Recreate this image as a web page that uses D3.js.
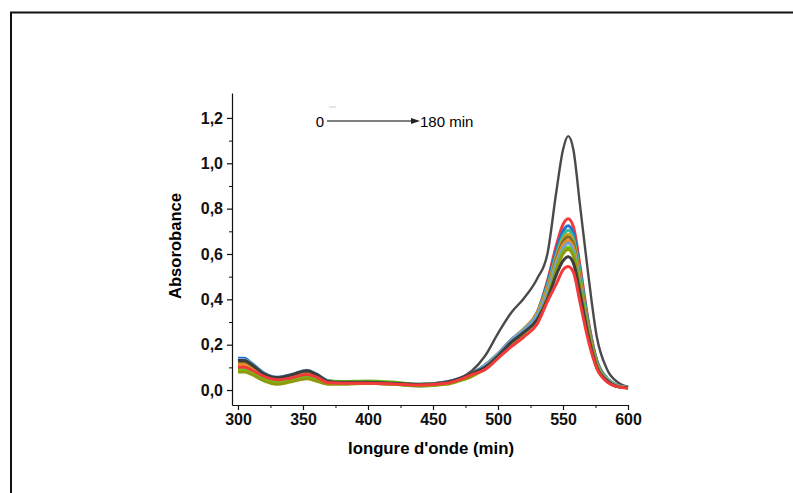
<!DOCTYPE html>
<html>
<head>
<meta charset="utf-8">
<script src="https://cdn.jsdelivr.net/npm/d3@7"></script>
<style>
	body { margin: 0; background: #fff; }
	text { font-family: Arial, "Liberation Sans", sans-serif; }
</style>
</head>
<body>
<div id="chart"></div>
<script>
// wavelengths (nm) shared by every spectrum
const wavelengths = [300,305,310,320,330,340,353,360,370,380,400,420,440,460,470,480,
	490,500,510,520,530,538,545,550,554,558,563,569,576,584,592,600];

// absorbance readings, one array per scan (0 -> 180 min)
const absGrayTop = [.13,.135,.115,.07,.055,.065,.087,.07,.04,.036,.035,.03,.025,.035,.05,.085,
	.15,.25,.34,.405,.49,.60,.88,1.06,1.12,1.06,.82,.53,.235,.09,.035,.015];
const absRedTop = [.10,.105,.095,.06,.045,.055,.07,.06,.035,.03,.03,.028,.022,.03,.045,.07,
	.11,.16,.22,.27,.34,.48,.64,.73,.755,.72,.55,.32,.13,.05,.02,.01];
const absBlue = [.14,.14,.12,.075,.055,.065,.085,.07,.04,.035,.035,.03,.025,.035,.05,.075,
	.11,.16,.22,.27,.34,.47,.62,.70,.725,.69,.53,.31,.13,.05,.02,.01];
const absTeal = [.12,.12,.105,.065,.05,.06,.08,.065,.035,.03,.03,.025,.018,.03,.045,.07,
	.11,.16,.22,.27,.34,.46,.60,.68,.705,.67,.52,.30,.125,.05,.02,.012];
const absGold = [.115,.115,.10,.065,.05,.06,.075,.06,.035,.03,.03,.027,.02,.03,.045,.07,
	.11,.16,.22,.27,.34,.45,.59,.665,.687,.655,.50,.29,.12,.045,.018,.01];
const absBrown = [.125,.125,.11,.07,.052,.062,.08,.065,.037,.032,.032,.028,.022,.032,.047,.072,
	.105,.155,.215,.265,.33,.44,.58,.655,.675,.645,.49,.29,.12,.045,.018,.01];
const absOrange = [.11,.11,.095,.06,.045,.055,.07,.06,.033,.03,.03,.027,.02,.03,.045,.07,
	.105,.155,.215,.265,.33,.44,.57,.64,.66,.63,.48,.28,.115,.045,.018,.01];
const absLightBlue = [.135,.135,.12,.075,.057,.067,.087,.072,.04,.035,.035,.03,.025,.035,.05,.075,
	.11,.16,.22,.265,.33,.43,.56,.625,.647,.615,.47,.275,.115,.045,.018,.01];
const absGreen = [.09,.09,.08,.05,.035,.045,.06,.05,.04,.038,.04,.035,.025,.03,.045,.065,
	.10,.15,.205,.25,.31,.41,.54,.61,.63,.60,.46,.27,.11,.04,.015,.01];
const absOlive = [.08,.08,.07,.04,.025,.035,.05,.04,.025,.025,.03,.025,.018,.025,.04,.06,
	.095,.145,.20,.25,.31,.41,.53,.60,.62,.59,.45,.265,.11,.04,.015,.01];
const absDarkGray = [.13,.13,.115,.072,.055,.065,.085,.07,.038,.034,.034,.03,.024,.034,.05,.075,
	.10,.15,.21,.255,.31,.40,.51,.57,.588,.56,.43,.25,.10,.04,.015,.01];
const absRedBottom = [.10,.10,.09,.06,.045,.052,.068,.058,.032,.03,.03,.027,.022,.03,.045,.068,
	.09,.14,.19,.235,.29,.39,.47,.53,.545,.52,.39,.23,.095,.035,.015,.008];

const spectra = [absGrayTop, absRedTop, absBlue, absTeal, absGold, absBrown, absOrange,
	absLightBlue, absGreen, absOlive, absDarkGray, absRedBottom];
const palette = ['#4a4a4a','#f2393b','#1e73d2','#2fbf9a','#d4a017','#7f6a2a','#ee8a2a',
	'#6ea3dc','#6cc01e','#8e9a0c','#3d3d3d','#f23a3a'];

const xTicks = [300, 350, 400, 450, 500, 550, 600];
const xMinor = [325, 375, 425, 475, 525, 575];
const yTicks = [0, 0.2, 0.4, 0.6, 0.8, 1.0, 1.2];
const yMinor = [0.1, 0.3, 0.5, 0.7, 0.9, 1.1];

const width = 793;
const height = 493;

const svg = d3.select('#chart')
	.append('svg')
	.attr('width', width)
	.attr('height', height);

// frame around the figure (open on the right and bottom)
svg.append('path')
	.attr('d', 'M11,493 L11,12.5 L793,12.5')
	.attr('fill', 'none')
	.attr('stroke', '#111')
	.attr('stroke-width', 2);

const x = d3.scaleLinear()
	.domain([295.4, 600])
	.range([232, 628]);

const y = d3.scaleLinear()
	.domain([-0.066, 1.31])
	.range([405, 93]);

const fmt = d => d3.format('.1f')(d).replace('.', ',');

// minor ticks first so major ones sit on top
svg.append('g')
	.attr('transform', 'translate(0,405)')
	.call(d3.axisBottom(x).tickValues(xMinor).tickSize(3).tickFormat(''))
	.call(g => g.select('.domain').remove());

svg.append('g')
	.attr('transform', 'translate(232,0)')
	.call(d3.axisLeft(y).tickValues(yMinor).tickSize(3).tickFormat(''))
	.call(g => g.select('.domain').remove());

const xAxis = svg.append('g')
	.attr('transform', 'translate(0,405)')
	.call(d3.axisBottom(x).tickValues(xTicks).tickSize(5).tickPadding(4).tickSizeOuter(0));

const yAxis = svg.append('g')
	.attr('transform', 'translate(232,0)')
	.call(d3.axisLeft(y).tickValues(yTicks).tickSize(5).tickPadding(4).tickSizeOuter(0).tickFormat(fmt));

[xAxis, yAxis].forEach(a => {
	a.selectAll('text')
		.style('font-size', '16px')
		.style('font-weight', 'bold')
		.attr('fill', '#111');
	a.selectAll('line, path').attr('stroke', '#111').attr('stroke-width', 1.2);
});

svg.selectAll('.tick line').attr('stroke', '#111');

const line = d3.line()
	.x((d, i) => x(wavelengths[i]))
	.y(d => y(d))
	.curve(d3.curveMonotoneX);

svg.append('g')
	.selectAll('path')
	.data(spectra)
	.enter()
	.append('path')
	.attr('d', line)
	.attr('fill', 'none')
	.attr('stroke', (d, i) => palette[i])
	.attr('stroke-width', (d, i) => i === 0 ? 2.4 : 3)
	.attr('stroke-linejoin', 'round');

// axis titles
svg.append('text')
	.attr('x', 431)
	.attr('y', 454)
	.attr('text-anchor', 'middle')
	.style('font-size', '16px')
	.style('font-weight', 'bold')
	.attr('textLength', 166)
	.attr('lengthAdjust', 'spacingAndGlyphs')
	.text("longure d'onde (min)");

svg.append('text')
	.attr('transform', 'translate(181,246) rotate(-90)')
	.attr('text-anchor', 'middle')
	.style('font-size', '16px')
	.style('font-weight', 'bold')
	.attr('textLength', 106)
	.attr('lengthAdjust', 'spacingAndGlyphs')
	.text('Absorobance');

// time arrow annotation
const note = svg.append('g');

note.append('text')
	.attr('x', 320)
	.attr('y', 127)
	.attr('text-anchor', 'middle')
	.style('font-size', '15px')
	.text('0');

note.append('line')
	.attr('x1', 327)
	.attr('x2', 413)
	.attr('y1', 121)
	.attr('y2', 121)
	.attr('stroke', '#555')
	.attr('stroke-width', 1.3);

note.append('path')
	.attr('d', 'M411,118 L420,121 L411,124 Z')
	.attr('fill', '#222');

note.append('text')
	.attr('x', 420)
	.attr('y', 127)
	.style('font-size', '15px')
	.text('180 min');

note.append('line')
	.attr('x1', 329)
	.attr('x2', 336)
	.attr('y1', 107)
	.attr('y2', 107)
	.attr('stroke', '#ccc')
	.attr('stroke-width', 1);
</script>
</body>
</html>
